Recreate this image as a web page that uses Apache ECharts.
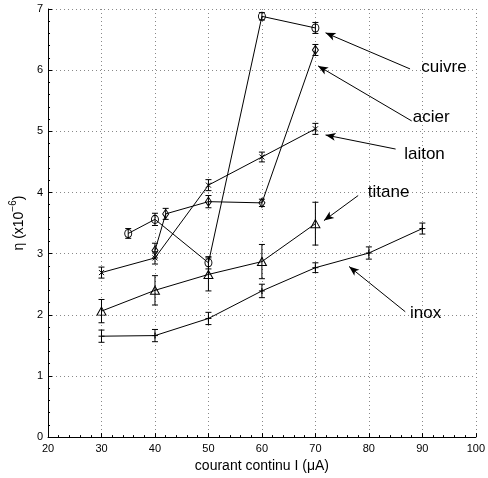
<!DOCTYPE html>
<html>
<head>
<meta charset="utf-8">
<script src="https://cdn.jsdelivr.net/npm/echarts@6/dist/echarts.min.js"></script>
<style>html,body{margin:0;padding:0;background:#fff}#c{width:488px;height:478px}</style>
</head>
<body>
<div id="c"></div>
<script>
// ---- data ----
const xTicks = [20, 30, 40, 50, 60, 70, 80, 90, 100];
const yTicks = [0, 1, 2, 3, 4, 5, 6, 7];

const cuivreX = [35, 40, 50, 60, 70];
const cuivreY = [3.33, 3.56, 2.85, 6.88, 6.69];
const cuivreErr = [0.08, 0.10, 0.10, 0.06, 0.09];

const acierX = [40, 42, 50, 60, 70];
const acierY = [3.05, 3.65, 3.85, 3.83, 6.33];
const acierErr = [0.12, 0.09, 0.10, 0.06, 0.09];

const laitonX = [30, 40, 50, 60, 70];
const laitonY = [2.69, 2.93, 4.12, 4.58, 5.04];
const laitonErr = [0.09, 0.10, 0.09, 0.08, 0.09];

const titaneX = [30, 40, 50, 60, 70];
const titaneY = [2.06, 2.40, 2.66, 2.87, 3.49];
const titaneErr = [0.19, 0.24, 0.27, 0.28, 0.35];

const inoxX = [30, 40, 50, 60, 70, 80, 90];
const inoxY = [1.65, 1.66, 1.94, 2.39, 2.77, 3.01, 3.41];
const inoxErr = [0.10, 0.10, 0.10, 0.11, 0.08, 0.10, 0.09];

// annotation labels and arrows (data coordinates)
const annoText = ['cuivre', 'acier', 'laiton', 'titane', 'inox'];
const annoLabelPos = [[89.8, 6.05], [88.2, 5.23], [86.6, 4.63], [79.8, 4.01], [87.7, 2.02]];
const annoTail = [[87.7, 6.02], [88.0, 5.17], [85.0, 4.71], [78.0, 3.95], [86.8, 2.05]];
const annoHead = [[71.9, 6.61], [70.5, 6.07], [71.9, 4.94], [71.6, 3.54], [76.3, 2.79]];

// ---- chart ----
const FONT = 'Liberation Sans, Arial, Helvetica, sans-serif';
const zip = (xs, ys) => xs.map((x, i) => [x, ys[i]]);
const zip3 = (xs, ys, es) => xs.map((x, i) => [x, ys[i], es[i]]);

function errRender(params, api) {
  const x = api.value(0), y = api.value(1), e = api.value(2);
  const t = api.coord([x, y + e]), b = api.coord([x, y - e]);
  const w = 3;
  const st = { stroke: '#000', lineWidth: 1 };
  return {
    type: 'group',
    children: [
      { type: 'line', shape: { x1: t[0], y1: t[1], x2: b[0], y2: b[1] }, style: st },
      { type: 'line', shape: { x1: t[0] - w, y1: t[1], x2: t[0] + w, y2: t[1] }, style: st },
      { type: 'line', shape: { x1: b[0] - w, y1: b[1], x2: b[0] + w, y2: b[1] }, style: st }
    ]
  };
}

const sym = {
  cuivre: { symbol: 'circle', size: [7, 8] },
  acier: { symbol: 'diamond', size: [6, 9] },
  laiton: { symbol: 'path://M0,0L10,10M10,0L0,10', size: 5 },
  titane: { symbol: 'triangle', size: [9, 8] },
  inox: { symbol: 'path://M0,5L10,5M5,0L5,10', size: 6 }
};

function lineSeries(name, xs, ys) {
  return {
    name: name, type: 'line', data: zip(xs, ys),
    symbol: sym[name].symbol, symbolSize: sym[name].size, showAllSymbol: true,
    lineStyle: { color: '#000', width: 1 },
    itemStyle: { color: 'rgba(0,0,0,0)', borderColor: '#000', borderWidth: 1 },
    emphasis: { disabled: true }, z: 3
  };
}
function errSeries(name, xs, ys, es) {
  return { name: name + '_err', type: 'custom', data: zip3(xs, ys, es), renderItem: errRender, z: 2, silent: true };
}

const series = [
  lineSeries('cuivre', cuivreX, cuivreY), errSeries('cuivre', cuivreX, cuivreY, cuivreErr),
  lineSeries('acier', acierX, acierY), errSeries('acier', acierX, acierY, acierErr),
  lineSeries('laiton', laitonX, laitonY), errSeries('laiton', laitonX, laitonY, laitonErr),
  lineSeries('titane', titaneX, titaneY), errSeries('titane', titaneX, titaneY, titaneErr),
  lineSeries('inox', inoxX, inoxY), errSeries('inox', inoxX, inoxY, inoxErr),
  {
    name: 'annotations', type: 'line', data: [], silent: true,
    markLine: {
      silent: true, animation: false,
      symbol: ['none', 'arrow'], symbolSize: [6, 10],
      label: { show: false },
      lineStyle: { color: '#000', width: 1, type: 'solid' },
      emphasis: { disabled: true },
      data: annoText.map((t, i) => [{ coord: annoTail[i] }, { coord: annoHead[i] }])
    },
    markPoint: {
      silent: true, animation: false,
      symbol: 'circle', symbolSize: 0,
      label: { show: true, position: 'right', distance: 0, formatter: '{b}', color: '#000', fontFamily: FONT, fontSize: 17 },
      data: annoText.map((t, i) => ({ name: t, coord: annoLabelPos[i] }))
    }
  }
];

const chart = echarts.init(document.getElementById('c'), null, { renderer: 'canvas' });
chart.setOption({
  animation: false,
  backgroundColor: '#fff',
  grid: { left: 39, right: 11, top: 9, bottom: 39, containLabel: false },
  xAxis: {
    type: 'value', min: xTicks[0], max: xTicks[xTicks.length - 1], interval: 10,
    name: 'courant continu I (\u03bcA)', nameLocation: 'middle', nameGap: 20,
    nameTextStyle: { fontFamily: FONT, fontSize: 14, color: '#000' },
    axisLine: { onZero: false, lineStyle: { color: '#000', width: 1 } },
    axisTick: { inside: true, length: 4, lineStyle: { color: '#000' } },
    minorTick: { show: true, splitNumber: 5, length: 2, lineStyle: { color: '#000' } },
    axisLabel: { fontFamily: FONT, fontSize: 11, color: '#000', margin: 6 },
    splitLine: { show: true, lineStyle: { color: '#888', type: [1, 3], width: 1 } }
  },
  yAxis: {
    type: 'value', min: yTicks[0], max: yTicks[yTicks.length - 1], interval: 1,
    name: '{m|\u03b7 (x10}{s|\u22126}{m|)}', nameLocation: 'middle', nameGap: 10, nameRotate: 90,
    nameTextStyle: {
      color: '#000',
      rich: {
        m: { fontFamily: FONT, fontSize: 14, color: '#000', lineHeight: 18, verticalAlign: 'bottom' },
        s: { fontFamily: FONT, fontSize: 10, color: '#000', lineHeight: 18, verticalAlign: 'top' }
      }
    },
    axisLine: { onZero: false, lineStyle: { color: '#000', width: 1 } },
    axisTick: { inside: true, length: 4, lineStyle: { color: '#000' } },
    minorTick: { show: true, splitNumber: 5, length: 2, lineStyle: { color: '#000' } },
    axisLabel: { fontFamily: FONT, fontSize: 11, color: '#000', margin: 5 },
    splitLine: { show: true, lineStyle: { color: '#888', type: [1, 3], width: 1 } }
  },
  series: series
});
</script>
</body>
</html>
